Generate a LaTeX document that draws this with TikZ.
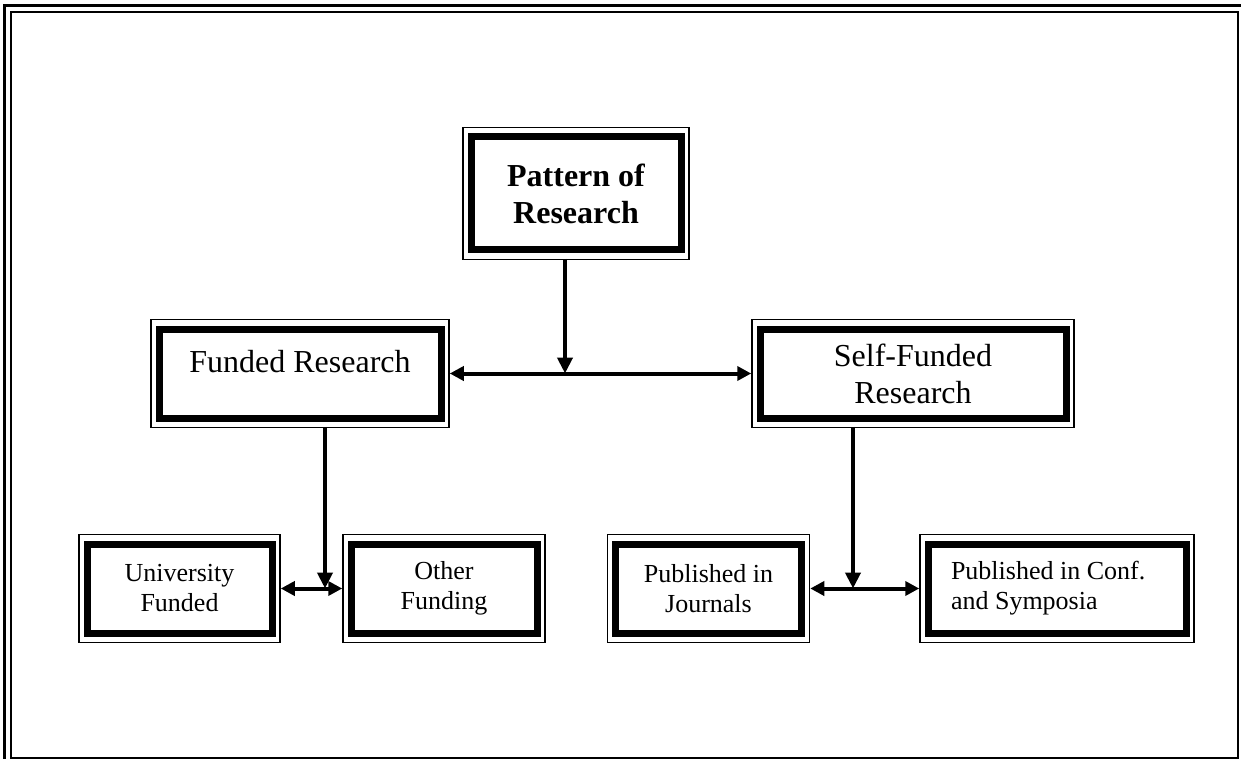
\documentclass[tikz,border=0pt]{standalone}
\usepackage{fontspec}
\setmainfont{Liberation Serif}
\usetikzlibrary{arrows.meta,calc}
\tikzset{
  box/.style={draw, line width=7pt, outer sep=8.75pt, inner sep=0pt, align=center},
  thinframe/.style={line width=1.5pt},
  bigfont/.style={font=\fontsize{32}{37}\selectfont},
  smallfont/.style={font=\fontsize{26}{30}\selectfont},
  arr/.style={line width=4pt, -{Triangle[length=16pt,width=15pt]}},
  darr/.style={line width=4pt, {Triangle[length=14pt,width=14pt]}-{Triangle[length=14pt,width=14pt]}},
}
\begin{document}
\begin{tikzpicture}[x=1pt,y=-1pt]
\useasboundingbox (0,0) rectangle (1241,759);
% page frame
\draw[line width=2.5pt] (4.5,5.5) rectangle (1246,764);
\draw[line width=2pt] (11,12) rectangle (1238,757.5);
% boxes
\node[box, minimum width=210pt, minimum height=113pt, font=\fontsize{32}{37}\selectfont\bfseries] (pat) at (576,193.5) {Pattern of\\Research};
\node[box, bigfont, minimum width=282pt, minimum height=89pt, text height=22pt, text depth=25pt] (fr) at (300,373.5) {Funded Research};
\node[box, bigfont, minimum width=306pt, minimum height=89pt] (sf) at (913,373.5) {Self-Funded\\Research};
\node[box, smallfont, minimum width=185pt, minimum height=89pt] (uf) at (179.5,588.5) {University\\Funded};
\node[box, smallfont, minimum width=186pt, minimum height=89pt] (of) at (444,588.5) {Other\\Funding};
\node[box, smallfont, minimum width=186pt, minimum height=89pt] (pj) at (708.5,588.5) {Published in\\Journals};
\node[box, smallfont, align=flush left, text width=212pt, minimum width=258pt, minimum height=89pt] (pc) at (1057,588.5) {Published in Conf.\\and Symposia};
\foreach \n in {pat,fr,sf,uf,of,pj,pc}
  \draw[thinframe] ([shift={(0.75pt,0.75pt)}]\n.north west) rectangle ([shift={(-0.75pt,-0.75pt)}]\n.south east);
% junctions
\coordinate (j1) at (565,373.5);
\coordinate (j2) at (325,588.5);
\coordinate (j3) at (853,588.5);
% connectors
\draw[arr] (j1 |- pat.south) -- (j1);
\draw[darr] (fr.east) -- (sf.west);
\draw[arr] (j2 |- fr.south) -- (j2);
\draw[darr] (uf.east) -- (of.west);
\draw[arr] (j3 |- sf.south) -- (j3);
\draw[darr] (pj.east) -- (pc.west);
\end{tikzpicture}
\end{document}
